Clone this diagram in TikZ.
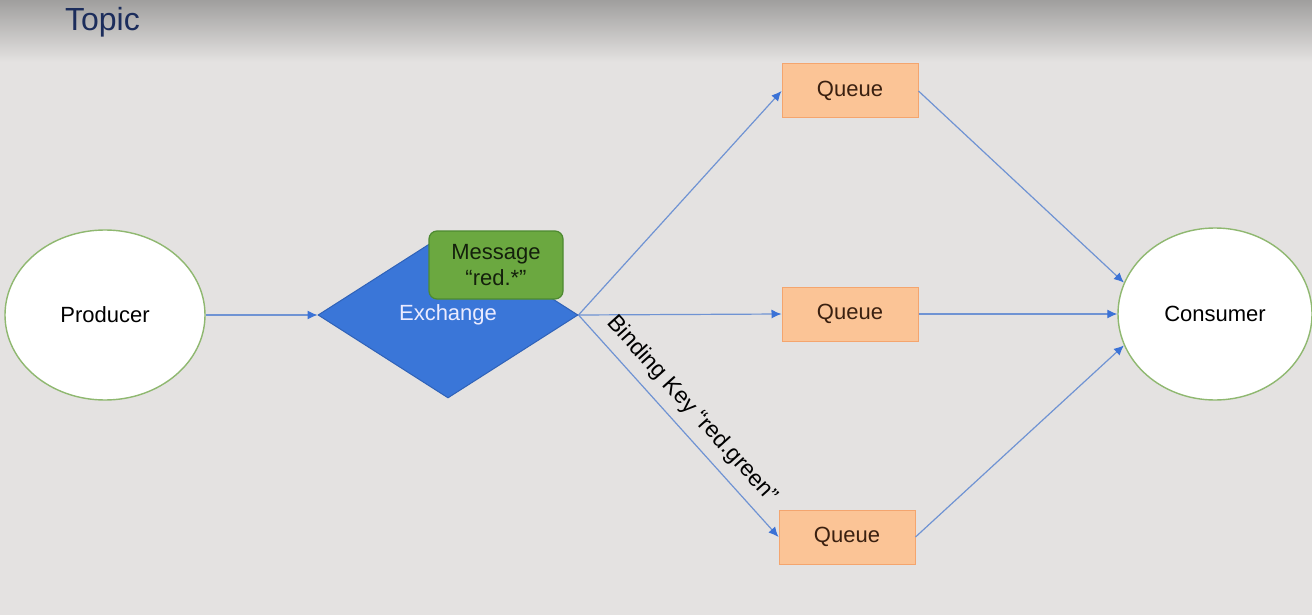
\documentclass[tikz,border=0pt]{standalone}
\usepackage{fontspec}
\setmainfont{Liberation Sans}
\usetikzlibrary{shapes.geometric,arrows.meta}
\definecolor{bgcol}{RGB}{228,226,225}
\definecolor{bgtop}{RGB}{160,159,158}
\definecolor{titlecol}{RGB}{28,45,92}
\definecolor{ellborder}{RGB}{143,184,112}
\definecolor{exfill}{RGB}{58,118,216}
\definecolor{exborder}{RGB}{47,98,184}
\definecolor{msgfill}{RGB}{107,168,64}
\definecolor{msgborder}{RGB}{77,138,48}
\definecolor{msgtext}{RGB}{20,32,12}
\definecolor{qfill}{RGB}{251,196,150}
\definecolor{qborder}{RGB}{244,165,110}
\definecolor{qtext}{RGB}{58,32,16}
\definecolor{linecol}{RGB}{111,147,211}
\definecolor{tipcol}{RGB}{59,114,214}
\tikzset{
  endpoint/.style={ellipse, draw=ellborder, fill=white, line width=0.7pt,
    minimum width=100pt, minimum height=85pt, inner sep=0pt, font=\fontsize{11}{13}\selectfont},
  exchangebox/.style={diamond, draw=exborder, fill=exfill, line width=0.5pt,
    minimum width=130pt, minimum height=83pt, aspect=1.566, inner sep=0pt,
    text=white!92!blue, font=\fontsize{11}{13}\selectfont},
  messagebox/.style={rectangle, rounded corners=4pt, draw=msgborder, fill=msgfill,
    line width=0.6pt, minimum width=67pt, minimum height=34pt, inner sep=0pt,
    align=center, text=msgtext, font=\fontsize{11}{13}\selectfont},
  queuebox/.style={rectangle, draw=qborder, fill=qfill, line width=0.5pt,
    minimum width=68pt, minimum height=27pt, inner sep=0pt, text=qtext,
    font=\fontsize{11}{13}\selectfont},
  flow/.style={draw=linecol, line width=0.6pt,
    -{Latex[length=5pt,width=4.5pt,color=tipcol]}},
}
\begin{document}
\begin{tikzpicture}[x=0.5pt,y=-0.5pt]
  % canvas and header band
  \useasboundingbox (0,0) rectangle (1312,615);
  \clip (0,0) rectangle (1312,615);
  \fill[bgcol] (0,0) rectangle (1312,615);
  \shade[top color=bgtop, bottom color=bgcol] (0,0) rectangle (1312,62);
  \node[anchor=west, text=titlecol, font=\fontsize{16}{18}\selectfont] (title) at (58,22) {Topic};

  % producer, exchange, consumer
  \node[endpoint] (prod) at (105,315) {Producer};
  \node[endpoint, minimum width=97pt, minimum height=86pt] (cons) at (1215,314) {Consumer};
  \node[exchangebox] (ex) at (448,315) {Exchange};

  % queues
  \node[queuebox] (q1) at (850,91) {Queue};
  \node[queuebox] (q2) at (850,314) {Queue};
  \node[queuebox] (q3) at (847,537) {Queue};

  % routing arrows
  \draw[flow] (prod.east) -- (ex.west);
  \draw[flow] (ex.east) -- (q1.west);
  \draw[flow] (ex.east) -- (q2.west);
  \draw[flow] (ex.east) -- (q3.west)
    node[pos=0.49, sloped, above=1.5pt, text=black, font=\fontsize{11.5}{13}\selectfont] (bk)
    {Binding Key “red.green”};
  \draw[flow] (q1.east) -- (cons.161);
  \draw[flow] (q2.east) -- (cons.west);
  \draw[flow] (q3.east) -- (cons.199);

  % message carried by the exchange
  \node[messagebox] (msg) at (496,265) {Message\\“red.*”};
\end{tikzpicture}
\end{document}
